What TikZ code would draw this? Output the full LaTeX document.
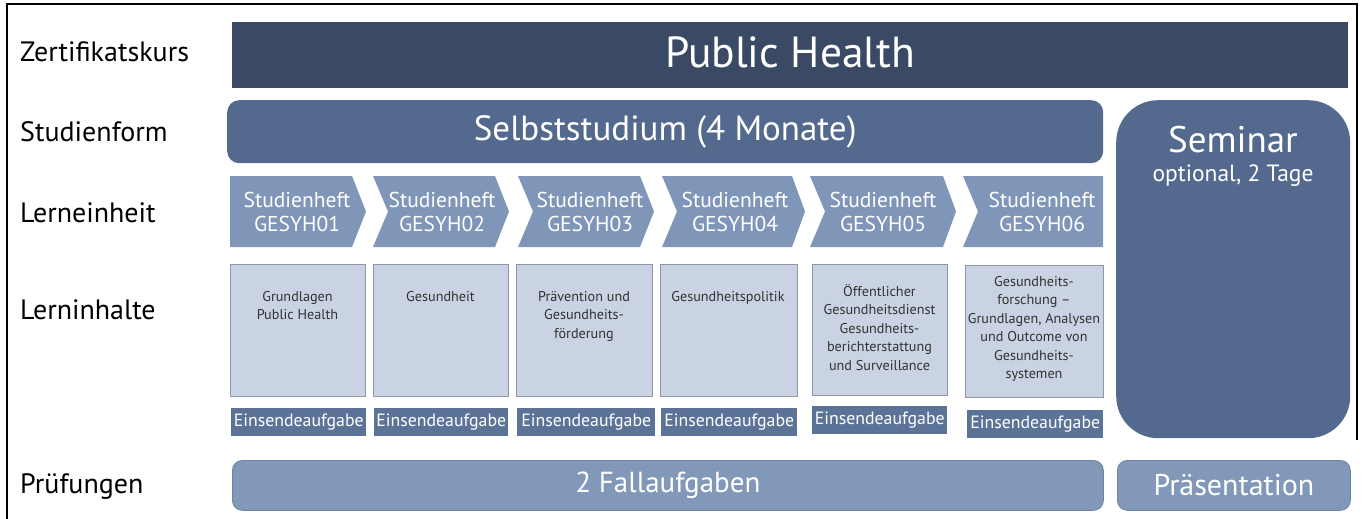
\documentclass[tikz,border=0pt]{standalone}
\usepackage{fontspec}
\setmainfont{PT Sans}
\definecolor{cdark}{HTML}{3B4A64}
\definecolor{cmid}{HTML}{54698E}
\definecolor{cchev}{HTML}{7F96B8}
\definecolor{cein}{HTML}{5C7398}
\definecolor{ccont}{HTML}{C9D3E3}
\definecolor{ccontb}{HTML}{8E98A8}
\definecolor{cfall}{HTML}{8198B9}
\definecolor{cfallb}{HTML}{6F84A3}
\begin{document}
\begin{tikzpicture}[x=1pt,y=-1pt,
  rowlbl/.style={anchor=west, inner sep=0, font=\fontsize{28}{32}\selectfont},
  chev/.style={fill=cchev, draw=none},
  chevtxt/.style={text=white, align=center, inner sep=0, font=\fontsize{21.5}{24}\selectfont},
  contbox/.style={fill=ccont, draw=ccontb, line width=0.8pt, anchor=north west, inner sep=0},
  conttxt/.style={anchor=north, align=center, inner sep=0, text=black!80, font=\fontsize{14.2}{18.5}\selectfont},
  einbox/.style={fill=cein, text=white, anchor=north west, inner sep=0, minimum height=28pt, font=\fontsize{17.8}{20}\selectfont},
  bigtxt/.style={text=white}
]
\useasboundingbox (0,0) rectangle (1362,519);
% frame
\draw[line width=2.6pt] (7,519) -- (7,4) -- (1357,4) -- (1357,440);

% row labels
\node[rowlbl] (l1) at (20,52) {Zertifikatskurs};
\node[rowlbl] (l2) at (20,132) {Studienform};
\node[rowlbl] (l3) at (20,213) {Lerneinheit};
\node[rowlbl] (l4) at (20,310) {Lerninhalte};
\node[rowlbl] (l5) at (20,487) {Prüfungen};

% Public Health
\node[fill=cdark, anchor=north west, inner sep=0, minimum width=1116pt, minimum height=66pt] (ph) at (232,22) {};
\node[bigtxt, font=\fontsize{43.5}{46}\selectfont] (pht) at ([yshift=3pt]ph.center) {Public Health};

% Selbststudium
\node[fill=cmid, rounded corners=12pt, anchor=north west, inner sep=0, minimum width=876pt, minimum height=63pt] (ss) at (227,100) {};
\node[bigtxt, font=\fontsize{35}{38}\selectfont] (sst) at (ss.center) {Selbststudium (4 Monate)};

% Seminar
\node[fill=cmid, rounded corners=42pt, anchor=north west, inner sep=0, minimum width=234pt, minimum height=338pt] (sem) at (1116,100) {};
\node[bigtxt, font=\fontsize{37}{40}\selectfont] (semt) at (1233,140) {Seminar};
\node[bigtxt, font=\fontsize{23.5}{26}\selectfont] (semo) at (1233,176) {optional, 2 Tage};

% chevrons
\fill[chev] (230,176) -- (352,176) -- (366,211.5) -- (352,247) -- (230,247) -- cycle;
\fill[chev] (373,176) -- (495,176) -- (509,211.5) -- (495,247) -- (373,247) -- (388,211.5) -- cycle;
\fill[chev] (518,176) -- (640,176) -- (654,211.5) -- (640,247) -- (518,247) -- (533,211.5) -- cycle;
\fill[chev] (662,176) -- (792,176) -- (805,211.5) -- (792,247) -- (662,247) -- (677,211.5) -- cycle;
\fill[chev] (810,176) -- (943,176) -- (956,211.5) -- (943,247) -- (810,247) -- (825,211.5) -- cycle;
\fill[chev] (963,176) -- (1103,176) -- (1103,247) -- (963,247) -- (978,211.5) -- cycle;
\node[chevtxt] (c1) at (297,212) {Studienheft\\GESYH01};
\node[chevtxt] (c2) at (442,212) {Studienheft\\GESYH02};
\node[chevtxt] (c3) at (590,212) {Studienheft\\GESYH03};
\node[chevtxt] (c4) at (735,212) {Studienheft\\GESYH04};
\node[chevtxt] (c5) at (883,212) {Studienheft\\GESYH05};
\node[chevtxt] (c6) at (1042,212) {Studienheft\\GESYH06};

% content boxes
\node[contbox, minimum width=135pt, minimum height=132pt] (b1) at (230,264) {};
\node[contbox, minimum width=135pt, minimum height=132pt] (b2) at (373,264) {};
\node[contbox, minimum width=136pt, minimum height=132pt] (b3) at (516,264) {};
\node[contbox, minimum width=137pt, minimum height=132pt] (b4) at (660,264) {};
\node[contbox, minimum width=135pt, minimum height=131pt] (b5) at (812,264) {};
\node[contbox, minimum width=138pt, minimum height=132pt] (b6) at (965,265) {};
\node[conttxt] (t1) at (297.5,291) {Grundlagen\\Public Health};
\node[conttxt] (t2) at (440.5,291) {Gesundheit};
\node[conttxt] (t3) at (584,291) {Prävention und\\Gesundheits-\\förderung};
\node[conttxt] (t4) at (728,291) {Gesundheitspolitik};
\node[conttxt] (t5) at (879.5,284) {Öffentlicher\\Gesundheitsdienst\\Gesundheits-\\berichterstattung\\und Surveillance};
\node[conttxt] (t6) at (1034,276) {Gesundheits-\\forschung –\\Grundlagen, Analysen\\und Outcome von\\Gesundheits-\\systemen};

% Einsendeaufgabe
\node[einbox, minimum width=135pt] (e1) at (231,408) {Einsendeaufgabe};
\node[einbox, minimum width=134pt] (e2) at (374,408) {Einsendeaufgabe};
\node[einbox, minimum width=138pt] (e3) at (517,408) {Einsendeaufgabe};
\node[einbox, minimum width=136pt] (e4) at (661,408) {Einsendeaufgabe};
\node[einbox, minimum width=135pt] (e5) at (812,406) {Einsendeaufgabe};
\node[einbox, minimum width=136pt] (e6) at (967,410) {Einsendeaufgabe};

% Pruefungen
\node[fill=cfall, draw=cfallb, line width=0.8pt, rounded corners=10pt, anchor=north west, inner sep=0, minimum width=871pt, minimum height=50pt] (fa) at (232,460) {};
\node[bigtxt, font=\fontsize{29}{32}\selectfont] (fat) at (fa.center) {2 Fallaufgaben};
\node[fill=cfall, draw=cfallb, line width=0.8pt, rounded corners=10pt, anchor=north west, inner sep=0, minimum width=233pt, minimum height=50pt] (pr) at (1117,460) {};
\node[bigtxt, font=\fontsize{30}{32}\selectfont] (prt) at (pr.center) {Präsentation};
\end{tikzpicture}
\end{document}
